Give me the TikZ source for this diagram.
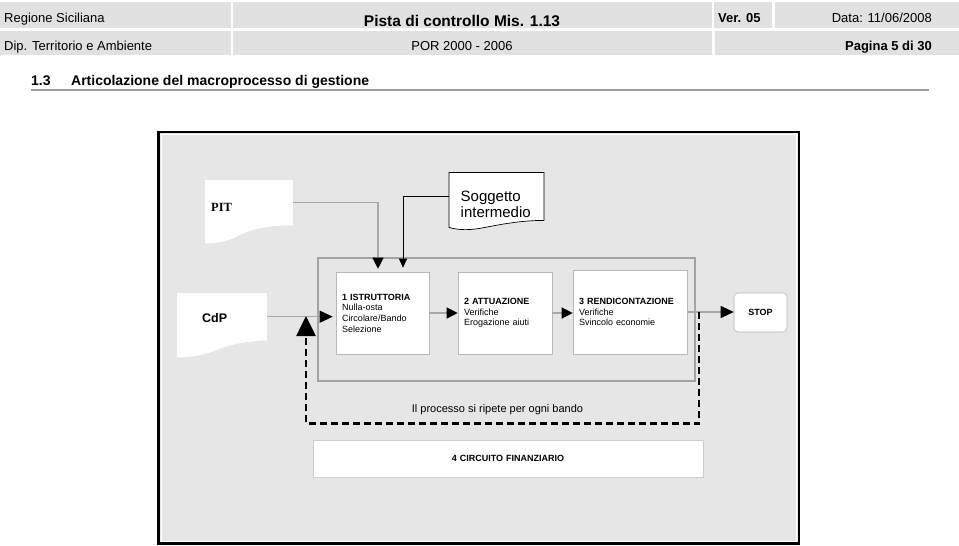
\documentclass[tikz,border=0pt]{standalone}
\usepackage{fontspec}
\setmainfont{Liberation Sans}
\newfontfamily\pitfont{Liberation Serif}
\usetikzlibrary{arrows.meta}

\definecolor{hdrgray}{HTML}{E1E1E1}
\definecolor{panelgray}{HTML}{E6E6E6}
\definecolor{framegray}{HTML}{A3A3A3}
\definecolor{wiregray}{HTML}{A8A8A8}
\definecolor{boxgray}{HTML}{B8B8B8}
\definecolor{rulegray}{HTML}{9C9C9C}

\tikzset{
  hdrtext/.style={inner sep=0pt, font=\fontsize{13}{15}\selectfont},
  phasebox/.style={rectangle, draw=boxgray, line width=0.6pt, fill=white, inner xsep=6pt, inner ysep=0pt, align=left, font=\fontsize{9}{10.7}\selectfont},
  docbox/.style={rectangle, fill=white, inner ysep=0pt, align=left, anchor=north west},
  wire/.style={draw=wiregray, line width=1.2pt},
  bigtip/.style={-{Triangle[length=11pt,width=11pt,color=black]}},
  loopline/.style={draw=black, line width=2.6pt, dash pattern=on 7pt off 4pt}
}

\begin{document}
\begin{tikzpicture}[x=1pt, y=-1pt]
\useasboundingbox (0,0) rectangle (959,546);

% intestazione
\fill[hdrgray] (0,2) rectangle (231,28);
\fill[hdrgray] (233,2) rectangle (712,28);
\fill[hdrgray] (714,2) rectangle (772,28);
\fill[hdrgray] (775,2) rectangle (959,28);
\fill[hdrgray] (0,31) rectangle (231,55);
\fill[hdrgray] (233,31) rectangle (712,55);
\fill[hdrgray] (715,31) rectangle (959,55);

\node[hdrtext, anchor=base west] (regione) at (4,23) {Regione Siciliana};
\node[hdrtext, anchor=base, font=\fontsize{15.5}{17}\selectfont\bfseries] (pista) at (462,26.5) {Pista di controllo Mis. 1.13};
\node[hdrtext, anchor=base west, font=\fontsize{13}{15}\selectfont\bfseries] (versione) at (718,23) {Ver. 05};
\node[hdrtext, anchor=base east] (data) at (932,23) {Data: 11/06/2008};
\node[hdrtext, anchor=base west] (dip) at (4,50) {Dip. Territorio e Ambiente};
\node[hdrtext, anchor=base] (por) at (462,50) {POR 2000 - 2006};
\node[hdrtext, anchor=base east, font=\fontsize{13}{15}\selectfont\bfseries] (pagina) at (932,50) {Pagina 5 di 30};

% titolo
\node[anchor=base west, inner sep=0pt, font=\fontsize{14}{16}\selectfont\bfseries] (titolo) at (31,85) {1.3\hspace{20.5pt}Articolazione del macroprocesso di gestione};
\draw[draw=rulegray, line width=2.5pt] (31,90) -- (929,90);

% riquadro
\draw[line width=2.8pt, fill=panelgray] (158.5,132) rectangle (799,543.5);
\draw[white, line width=1pt] (161,134.5) rectangle (796.5,541);

% documenti
\node[docbox, text width=76pt, inner xsep=6pt, text height=31.7pt, text depth=13.3pt, font=\pitfont\fontsize{12.5}{14}\selectfont\bfseries] (pit) at (205,180) {PIT};
\fill[white, shift={(pit.south west)}] (0,-1) -- (88,-1) -- (88,0) .. controls (60,0) and (45,4) .. (30,12) .. controls (22,16) and (10,18) .. (0,18) -- cycle;

\node[docbox, text width=72pt, inner xsep=11.5pt, text height=29.7pt, text depth=18.3pt, font=\fontsize{15}{15.2}\selectfont] (sogg) at (449,172) {Soggetto\\intermedio};
\fill[white, shift={(sogg.south west)}] (0,-1) -- (95,-1) -- (95,0) .. controls (72,0) and (52,4) .. (36,7) .. controls (22,10) and (10,10) .. (0,7) -- cycle;
\draw[line width=0.7pt, shift={(sogg.south west)}] (0,7) -- (0,-48) -- (95,-48) -- (95,0) .. controls (72,0) and (52,4) .. (36,7) .. controls (22,10) and (10,10) .. (0,7) -- cycle;

\node[docbox, text width=40pt, inner xsep=25pt, text height=29pt, text depth=18pt, font=\fontsize{12.5}{14}\selectfont\bfseries] (cdp) at (177,293) {CdP};
\fill[white, shift={(cdp.south west)}] (0,-1) -- (90,-1) -- (90,0) .. controls (65,1) and (50,5) .. (36,11) .. controls (26,15) and (12,17) .. (0,17) -- cycle;

% fasi
\node[draw=framegray, line width=2.5pt, minimum width=377pt, minimum height=123pt, inner sep=0pt] (fasi) at (506.5,319.5) {};
\node[phasebox, text width=81pt, minimum height=82pt] (istr) at (382.5,313) {\textbf{1 ISTRUTTORIA}\\Nulla-osta\\Circolare/Bando\\Selezione};
\node[phasebox, text width=82pt, minimum height=82pt] (attu) at (505,313) {\textbf{2 ATTUAZIONE}\\Verifiche\\Erogazione aiuti};
\node[phasebox, text width=102pt, minimum height=84pt] (rend) at (630,312) {\textbf{3 RENDICONTAZIONE}\\Verifiche\\Svincolo economie};
\node[phasebox, rounded corners=4pt, align=center, text width=41pt, minimum height=39pt, font=\fontsize{9}{10.7}\selectfont\bfseries] (stop) at (760.5,312.5) {STOP};
\node[phasebox, draw=boxgray!70, align=center, text width=378pt, minimum height=37pt, font=\fontsize{9}{10.7}\selectfont\bfseries] (circuito) at (508,458.5) {4 CIRCUITO FINANZIARIO};

% collegamenti
\draw[wire, bigtip, shorten >=3pt] (pit.east) -| ([xshift=-4.5pt]istr.north);
\draw[line width=0.7pt, -{Triangle[length=9pt,width=8pt]}, shorten >=4pt] (sogg.west) -| ([xshift=20.5pt]istr.north);
\draw[wire, -{Triangle[length=13pt,width=12pt,color=black]}, shorten >=3pt] (cdp.east) -- (cdp.east -| istr.west);
\draw[wire, bigtip] (istr) -- (attu);
\draw[wire, bigtip] (attu.east) -- (attu.east -| rend.west);
\draw[wire, -{Triangle[length=13pt,width=12pt,color=black]}] (rend.east) -- (rend.east -| stop.west);

% ciclo
\coordinate (ciclo) at (699,312);
\coordinate (rientro) at (306,316);
\draw[loopline, -{Triangle[length=20pt,width=19pt]}] (ciclo) -- ++(0,111.5) -| (rientro);
\node[anchor=base, inner sep=0pt, font=\fontsize{11}{13}\selectfont] (ripete) at (497.5,412) {Il processo si ripete per ogni bando};
\end{tikzpicture}
\end{document}
